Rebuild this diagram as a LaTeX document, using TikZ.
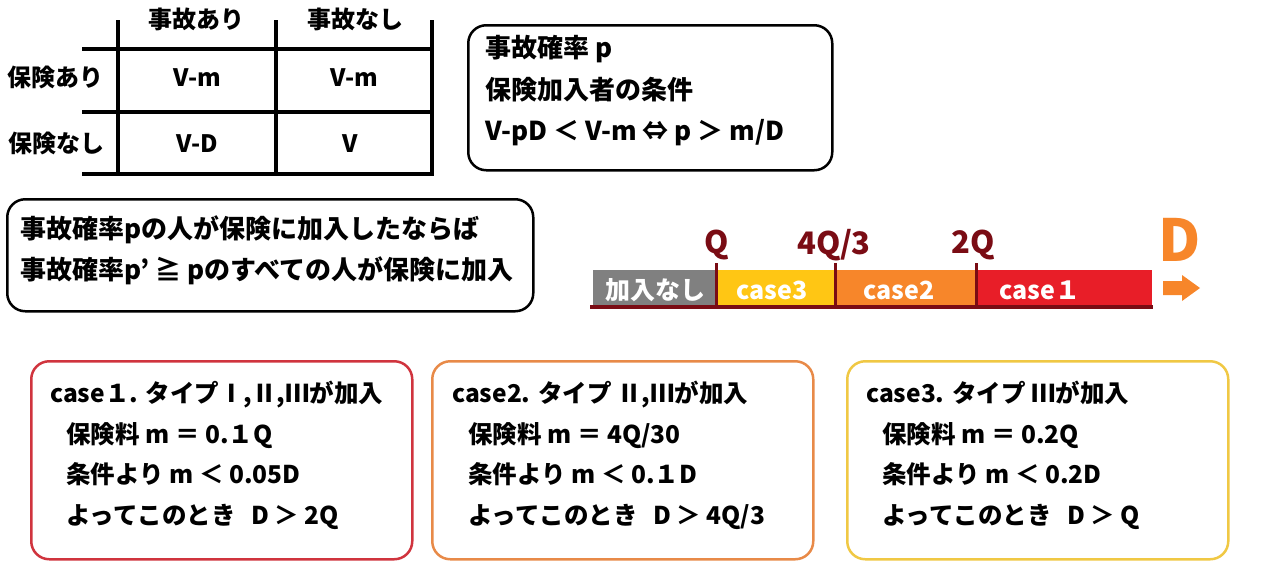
\documentclass[tikz,border=0pt]{standalone}
\usepackage{fontspec}
\setmainfont{Noto Sans CJK JP}
\definecolor{barred}{HTML}{E81E28}
\definecolor{barorange}{HTML}{F7862A}
\definecolor{baryellow}{HTML}{FFC614}
\definecolor{bargray}{HTML}{808080}
\definecolor{darkred}{HTML}{7A0C14}
\definecolor{c1line}{HTML}{D0343E}
\definecolor{c2line}{HTML}{E88A48}
\definecolor{c3line}{HTML}{F0C844}
\begin{document}
\begin{tikzpicture}[x=1pt,y=-1pt,
  ttxt/.style={font=\bfseries\fontsize{24}{28}\selectfont, inner sep=0pt, text height=18pt, text depth=6pt},
  btxt/.style={font=\bfseries\fontsize{26}{30}\selectfont, inner sep=0pt, text height=20pt, text depth=6pt, anchor=west},
  ctxt/.style={font=\bfseries\fontsize{24.5}{28}\selectfont, inner sep=0pt, text height=19pt, text depth=6pt, anchor=west},
  gridline/.style={line width=4pt},
  rbox/.style={draw, rounded corners=18pt, line width=2.5pt, anchor=north west, inner sep=0pt},
  seglabel/.style={font=\bfseries\fontsize{25}{28}\selectfont, text=white, inner sep=0pt},
  ticklabel/.style={font=\bfseries\fontsize{31}{34}\selectfont, text=darkred, inner sep=0pt},
  tickline/.style={darkred, line width=3pt}]
\useasboundingbox (0,0) rectangle (1268,576);

% ---- table ----
\draw[gridline] (118,20) -- (118,176);
\draw[gridline] (276,20) -- (276,176);
\draw[gridline] (432,20) -- (432,176);
\draw[gridline] (82,49) -- (434,49);
\draw[gridline] (82,112) -- (434,112);
\draw[gridline] (82,174) -- (434,174);
\node[ttxt] (h1) at (196,22) {事故あり};
\node[ttxt] (h2) at (355,22) {事故なし};
\node[ttxt] (r1) at (56,80) {保険あり};
\node[ttxt] (r2) at (57,146) {保険なし};
\node[ttxt] (c11) at (197,80) {V-m};
\node[ttxt] (c12) at (354,80) {V-m};
\node[ttxt] (c21) at (197,146) {V-D};
\node[ttxt] (c22) at (350,146) {V};

% ---- condition box ----
\node[rbox, minimum width=364pt, minimum height=145pt] (cond) at (467,24) {};
\node[btxt] (cond1) at (485,50) {事故確率 p};
\node[btxt] (cond2) at (485,92) {保険加入者の条件};
\node[btxt] (cond3) at (485,133) {V-pD ＜ V-m ⇔ p ＞ m/D};

% ---- statement box ----
\node[rbox, minimum width=526pt, minimum height=112pt] (stmt) at (6,198) {};
\node[btxt] (stmt1) at (20,231) {事故確率pの人が保険に加入したならば};
\node[btxt] (stmt2) at (20,272) {事故確率p' ≧ pのすべての人が保険に加入};

% ---- number line ----
\fill[bargray] (593,270) rectangle (716,305);
\fill[baryellow] (716,270) rectangle (835,305);
\fill[barorange] (835,270) rectangle (976,305);
\fill[barred] (976,270) rectangle (1152,305);
\draw[darkred, line width=4pt] (590,307) -- (1153,307);
\draw[tickline] (716,263) -- (716,307);
\draw[tickline] (835,263) -- (835,307);
\draw[tickline] (976,263) -- (976,307);
\node[seglabel] (s0) at (655,290) {加入なし};
\node[seglabel] (s3) at (772,290) {case3};
\node[seglabel] (s2) at (899,290) {case2};
\node[seglabel] (s1) at (1040,290) {case１};
\node[ticklabel] (tq) at (717,245) {Q};
\node[ticklabel] (t43) at (834,245) {4Q/3};
\node[ticklabel] (t2) at (973,245) {2Q};
\node[font=\bfseries\fontsize{58}{62}\selectfont, text=barorange, inner sep=0pt] (dlab) at (1180,240) {D};
\fill[barorange] (1163,281) -- (1182,281) -- (1182,275) -- (1200,288) -- (1182,301) -- (1182,295) -- (1163,295) -- cycle;

% ---- case boxes ----
\node[rbox, draw=c1line, minimum width=381pt, minimum height=198pt] (case1) at (30,360) {};
\node[ctxt] (c1a) at (50,396) {case１. タイプⅠ,Ⅱ,Ⅲが加入};
\node[ctxt] (c1b) at (66,437) {保険料 m ＝ 0.１Q};
\node[ctxt] (c1c) at (66,477) {条件より m ＜ 0.05D};
\node[ctxt] (c1d) at (66,518) {よってこのとき\hspace{10pt} D ＞ 2Q};

\node[rbox, draw=c2line, minimum width=381pt, minimum height=198pt] (case2) at (431,360) {};
\node[ctxt] (c2a) at (452,396) {case2. タイプ Ⅱ,Ⅲが加入};
\node[ctxt] (c2b) at (468,437) {保険料 m ＝ 4Q/30};
\node[ctxt] (c2c) at (468,477) {条件より m ＜ 0.１D};
\node[ctxt] (c2d) at (468,518) {よってこのとき\hspace{10pt} D ＞ 4Q/3};

\node[rbox, draw=c3line, minimum width=381pt, minimum height=198pt] (case3) at (846,360) {};
\node[ctxt] (c3a) at (866,396) {case3. タイプ Ⅲが加入};
\node[ctxt] (c3b) at (882,437) {保険料 m ＝ 0.2Q};
\node[ctxt] (c3c) at (882,477) {条件より m ＜ 0.2D};
\node[ctxt] (c3d) at (882,518) {よってこのとき\hspace{10pt} D ＞ Q};
\end{tikzpicture}
\end{document}
